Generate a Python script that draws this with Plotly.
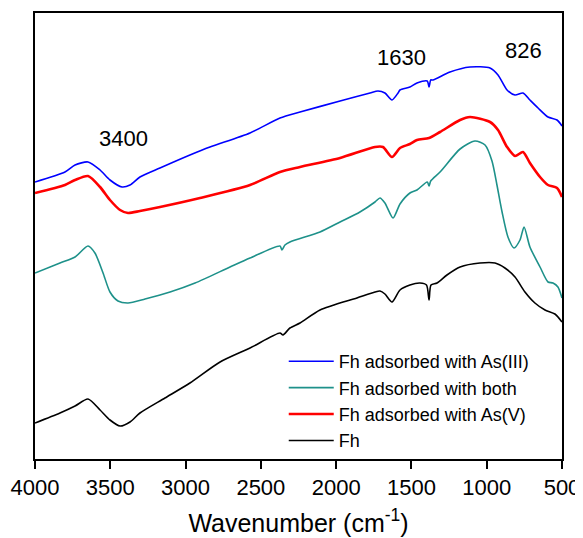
import plotly.graph_objects as go

# Wavenumbers (cm-1) and relative absorbance (arbitrary units, offset spectra)
wn_as3 = [4000, 3801, 3734, 3648, 3568, 3502, 3422, 3369, 3303, 3170, 2971, 2838, 2572, 2373,
          2240, 1974, 1775, 1722, 1676, 1629, 1589, 1576, 1510, 1463, 1395, 1383, 1372, 1357,
          1244, 1111, 978, 925, 865, 812, 759, 713, 659, 593, 533, 500]
y_as3 = [277, 287, 294, 297, 289, 279, 272, 274, 282, 291, 304, 312, 326, 341,
         347, 358, 366, 368, 366, 359, 366, 369, 372, 376, 378, 372, 379, 379,
         387, 392, 391, 384, 369, 364, 366, 359, 351, 342, 339, 333]

wn_both = [4000, 3834, 3734, 3648, 3602, 3548, 3502, 3449, 3382, 3269, 3103, 2937, 2705, 2572,
           2373, 2360, 2340, 2307, 2107, 1974, 1842, 1742, 1709, 1676, 1622, 1576, 1510, 1463,
           1395, 1383, 1372, 1310, 1177, 1078, 1011, 965, 932, 898, 859, 819, 779, 752, 713,
           646, 593, 560, 527, 500]
y_both = [186, 196, 202, 213, 206, 186, 167, 158, 156, 160, 167, 176, 192, 201,
          213, 209, 214, 217, 227, 237, 247, 257, 261, 256, 241, 255, 266, 269,
          277, 273, 278, 287, 310, 318, 314, 298, 274, 247, 222, 211, 219, 232, 212,
          192, 177, 176, 172, 161]

wn_as5 = [4000, 3801, 3734, 3648, 3568, 3502, 3435, 3382, 3303, 3170, 2904, 2572, 2373, 2240,
          1974, 1742, 1689, 1629, 1576, 1510, 1463, 1383, 1310, 1177, 1111, 978, 925, 865,
          812, 759, 713, 646, 593, 533, 500]
y_as5 = [266, 274, 279, 283, 272, 259, 249, 246, 248, 252, 261, 274, 287, 292,
         301, 312, 312, 302, 311, 315, 319, 321, 327, 339, 342, 337, 329, 312,
         303, 307, 296, 282, 274, 271, 262]

wn_fh = [4000, 3834, 3734, 3648, 3568, 3502, 3435, 3369, 3303, 3137, 2971, 2771, 2572, 2373,
         2353, 2307, 2240, 2107, 1862, 1742, 1709, 1676, 1629, 1576, 1510, 1443, 1400, 1383,
         1370, 1330, 1264, 1177, 1045, 945, 879, 812, 746, 680, 613, 547, 500]
y_fh = [36, 46, 53, 60, 49, 39, 33, 37, 46, 61, 76, 97, 111, 126,
        124, 131, 136, 149, 161, 167, 168, 165, 157, 169, 174, 176, 174, 159,
        174, 176, 184, 192, 196, 196, 191, 182, 167, 156, 149, 145, 137]

series_names = ["Fh adsorbed with As(III)", "Fh adsorbed with both",
                "Fh adsorbed with As(V)", "Fh"]
x_ticks = [4000, 3500, 3000, 2500, 2000, 1500, 1000, 500]
peak_labels = ["3400", "1630", "826"]
peak_label_x = [3409, 1569, 759]
peak_label_y = [321, 402, 409]

colors = ["#0000FF", "#1E918A", "#FF0000", "#000000"]
widths = [1.6, 1.6, 2.6, 1.6]
data = [(wn_as3, y_as3), (wn_both, y_both), (wn_as5, y_as5), (wn_fh, y_fh)]

fig = go.Figure()
for (xs, ys), name, c, w in zip(data, series_names, colors, widths):
    fig.add_trace(go.Scatter(x=xs, y=ys, mode="lines", name=name,
                             line=dict(color=c, width=w, shape="spline", smoothing=0.7)))

for t, xv, yv in zip(peak_labels, peak_label_x, peak_label_y):
    fig.add_annotation(x=xv, y=yv, text=t, showarrow=False,
                       font=dict(size=22, color="black"))

font_fam = "Arial, Liberation Sans, sans-serif"
# page body has an 8px default margin, so the figure is 8px smaller than the window
fig.update_layout(
    width=575, height=530,
    margin=dict(l=27, r=21, t=5, b=79, autoexpand=False),
    paper_bgcolor="white", plot_bgcolor="white",
    font=dict(family=font_fam, color="black"),
    showlegend=True,
    legend=dict(x=0.472, y=0.26, xanchor="left", yanchor="top",
                bgcolor="rgba(0,0,0,0)", font=dict(size=18), tracegroupgap=0,
                itemwidth=45),
)
fig.update_xaxes(range=[4000, 500], tickvals=x_ticks, ticktext=[str(v) for v in x_ticks],
                 ticks="outside", ticklen=8, tickwidth=1.5, tickcolor="black",
                 showline=True, linecolor="black", linewidth=1.5, mirror=True,
                 showgrid=False, zeroline=False, tickfont=dict(size=22), automargin=False,
                 title=dict(text="Wavenumber (cm<sup>-1</sup>)", font=dict(size=25)))
fig.update_yaxes(range=[0, 446], showticklabels=False, ticks="", automargin=False,
                 showline=True, linecolor="black", linewidth=1.5, mirror=True,
                 showgrid=False, zeroline=False)

fig.write_html("out.html")
